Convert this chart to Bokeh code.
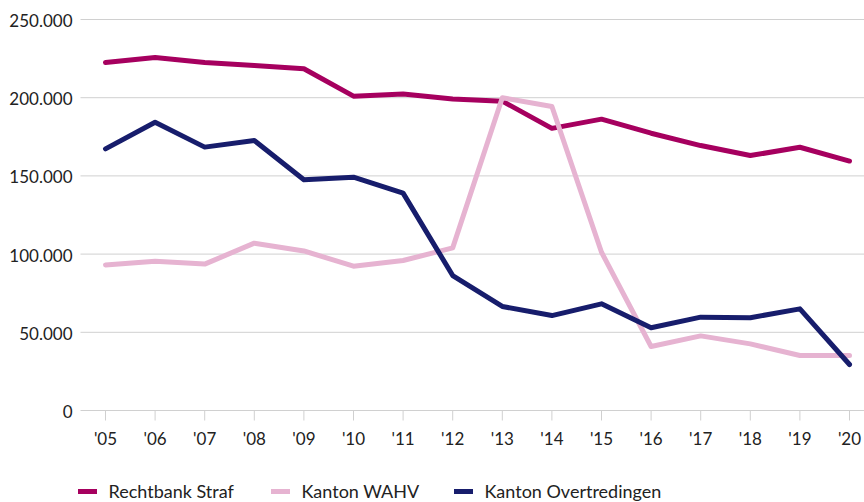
from bokeh.plotting import figure
from bokeh.models import Range1d, Legend, LegendItem
from bokeh.core.properties import value
from bokeh.embed import file_html
from bokeh.resources import INLINE

years = ["'05", "'06", "'07", "'08", "'09", "'10", "'11", "'12", "'13", "'14", "'15", "'16", "'17", "'18", "'19", "'20"]
rechtbank_straf = [222500, 225700, 222500, 220600, 218500, 201000, 202300, 199200, 197800, 180400, 186300, 177300, 169400, 163000, 168300, 159500]
kanton_wahv = [93100, 95500, 93600, 107000, 102000, 92300, 95900, 104000, 200000, 194400, 101200, 40900, 47700, 42600, 35200, 35200]
kanton_overtredingen = [167300, 184300, 168400, 172600, 147500, 149200, 139000, 86300, 66500, 60700, 68200, 52900, 59700, 59300, 65000, 29400]
y_ticks = [0, 50000, 100000, 150000, 200000, 250000]
y_tick_labels = ["0", "50.000", "100.000", "150.000", "200.000", "250.000"]

series_names = ["Rechtbank Straf", "Kanton WAHV", "Kanton Overtredingen"]
series_colors = ["#A6005F", "#E6B3D1", "#171D6C"]

FONT = "Lato"
TXT = "#222222"
GRID = "#d0d0d0"

W, H = 864, 502
# layout (pixels)
X0_PX, STEP_PX = 105.0, 49.6          # first category centre, category step
ZERO_PX, PX_PER_UNIT = 410.0, 391.0 / 250000  # y=0 pixel row, pixels per value unit
GRID_LEFT_PX = 80.0
TICK_LEN_PX = 10.0

x_start = -X0_PX / STEP_PX
x_end = (W - X0_PX) / STEP_PX
y_end = ZERO_PX / PX_PER_UNIT
y_start = -(H - ZERO_PX) / PX_PER_UNIT

p = figure(width=W, height=H, output_backend="svg", toolbar_location=None,
           x_range=Range1d(x_start, x_end), y_range=Range1d(y_start, y_end),
           x_axis_location=None, y_axis_location=None,
           min_border=0, min_border_left=0, min_border_right=0, min_border_top=0, min_border_bottom=0)
p.outline_line_color = None
p.grid.visible = False
p.background_fill_color = "white"
p.border_fill_color = "white"

x = list(range(len(years)))
grid_left = (GRID_LEFT_PX - X0_PX) / STEP_PX

# horizontal grid lines (the one at 0 doubles as x axis line)
p.segment(x0=[grid_left] * len(y_ticks), x1=[x_end] * len(y_ticks), y0=y_ticks, y1=y_ticks,
          line_color=GRID, line_width=1)
# x tick marks
tick_bottom = -TICK_LEN_PX / PX_PER_UNIT
p.segment(x0=x, x1=x, y0=[0] * len(x), y1=[tick_bottom] * len(x), line_color=GRID, line_width=1)

# x tick labels
p.text(x=x, y=[0] * len(x), text=years, text_align="center", text_baseline="alphabetic",
       y_offset=28, text_font=value(FONT), text_font_size="17px", text_color=TXT)
# y tick labels
p.text(x=[grid_left] * len(y_ticks), y=y_ticks, text=y_tick_labels, text_align="right",
       text_baseline="alphabetic", x_offset=-8, y_offset=1, text_font=value(FONT),
       text_font_size="17px", text_color=TXT)

renderers = []
for vals, col in zip([rechtbank_straf, kanton_wahv, kanton_overtredingen], series_colors):
    r = p.line(x, vals, line_color=col, line_width=5, line_join="round", line_cap="round")
    renderers.append(r)

legend_x = [77.5, 270.5, 453.5]
for name, r, lx in zip(series_names, renderers, legend_x):
    lg = Legend(items=[LegendItem(label=name, renderers=[r])],
                orientation="horizontal", location=(lx, 0),
                glyph_width=19, glyph_height=20, label_height=20, label_standoff=12, spacing=0,
                padding=0, margin=0, border_line_color=None, background_fill_alpha=0,
                label_text_font=FONT, label_text_font_size="18px", label_text_color=TXT)
    p.add_layout(lg, "center")

open("out.html", "w").write(file_html(p, INLINE))
